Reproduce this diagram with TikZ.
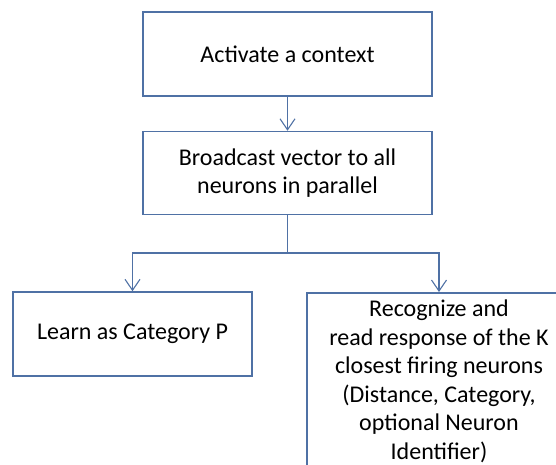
\documentclass[tikz,border=0pt]{standalone}
\usepackage{fontspec}
\setmainfont{Carlito}
\usetikzlibrary{arrows.meta}

\definecolor{boxline}{RGB}{79,113,165}

\tikzset{
  box/.style={draw=boxline, line width=1.5pt, fill=white, align=center, inner sep=0pt},
  link/.style={draw=boxline, line width=1.3pt},
  tip/.style={-{Straight Barb[length=11pt, width=15pt, line width=1.1pt]}},
}

\begin{document}
\begin{tikzpicture}[x=1pt, y=-1pt, font=\fontsize{24}{28.5}\selectfont]

\clip (0,0) rectangle (556,464);
\useasboundingbox (0,0) rectangle (556,464);

\node[box, minimum width=289pt, minimum height=84pt] (ctx) at (287.5, 54) {Activate a context};
\node[box, minimum width=289pt, minimum height=83pt] (bcast) at (287.5, 173) {Broadcast vector to all\\ neurons in parallel};
\node[box, minimum width=239pt, minimum height=84pt] (learn) at (132.5, 334) {Learn as Category P};
\node[box, minimum width=264pt, minimum height=200pt, anchor=north] (recog) at (439, 292) {};
\node[align=center, anchor=north, inner sep=0pt] (recogtxt) at (439, 300)
  {Recognize and\\ read response of the K\\ closest firing neurons\\ (Distance, Category,\\ optional Neuron\\ Identifier)};

\coordinate (split) at (287.5, 253);

\draw[link, tip] (ctx) -- (bcast);
\draw[link] (bcast) -- (split);
\draw[link, tip] (split) -| (learn);
\draw[link, tip] (split) -| (recog);

\end{tikzpicture}
\end{document}
